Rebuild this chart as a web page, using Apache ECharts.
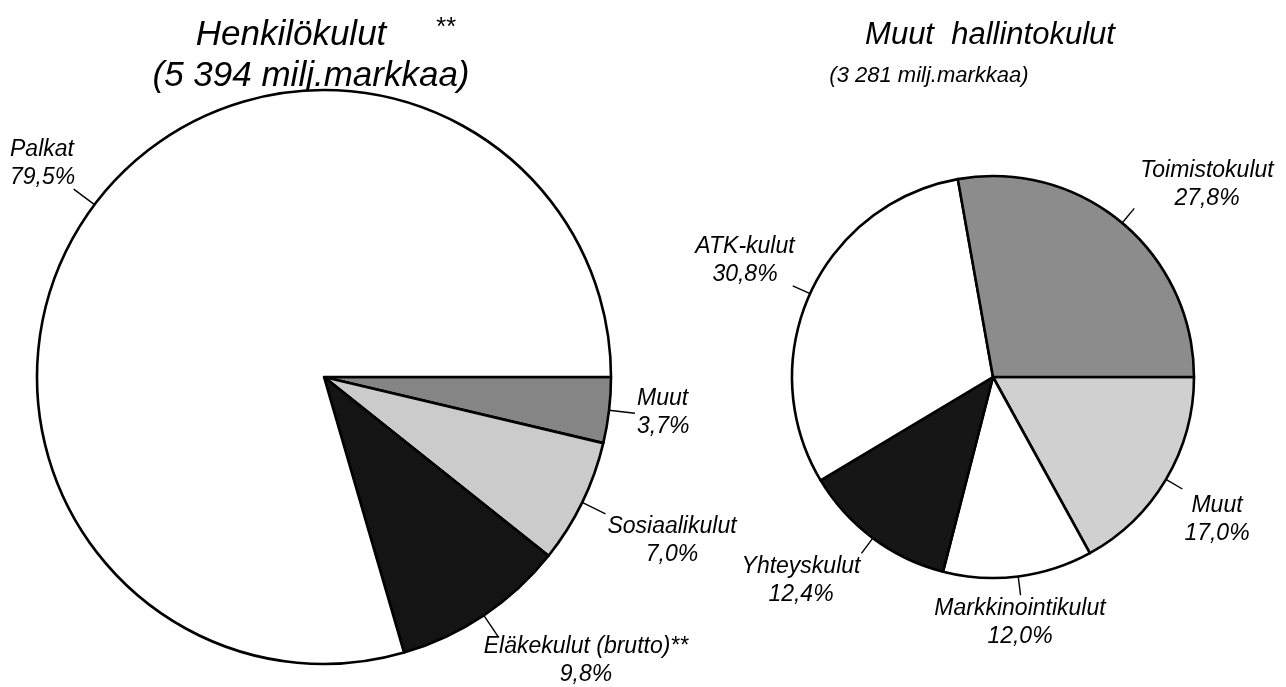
<!DOCTYPE html>
<html>
<head>
<meta charset="utf-8">
<title>Henkilökulut ja muut hallintokulut</title>
<script src="https://cdn.jsdelivr.net/npm/echarts@6/dist/echarts.min.js"></script>
<style>
  html, body { margin: 0; padding: 0; background: #fff; }
  #chart { width: 1286px; height: 687px; }
</style>
</head>
<body>
<div id="chart"></div>
<script>
// Henkilökulut (5 394 milj. mk), osuudet %
const henkiloNames = ['Muut', 'Sosiaalikulut', 'Eläkekulut (brutto)**', 'Palkat'];
const henkiloValues = [3.7, 7.0, 9.8, 79.5];
// Muut hallintokulut (3 281 milj. mk), osuudet %
const hallintoNames = ['Muut', 'Markkinointikulut', 'Yhteyskulut', 'ATK-kulut', 'Toimistokulut'];
const hallintoValues = [17.0, 12.0, 12.4, 30.8, 27.8];

const henkiloColors = ['#858585', '#cbcbcb', '#141414', '#ffffff'];
const hallintoColors = ['#d0d0d0', '#ffffff', '#161616', '#ffffff', '#8c8c8c'];

// label anchor: x, y, align
const henkiloLabelPos = [[637, 413, 'left'], [672, 541, 'center'], [586, 661, 'center'], [10, 164, 'left']];
const hallintoLabelPos = [[1217, 520, 'center'], [1020, 623, 'center'], [801, 581, 'center'], [745, 261, 'center'], [1207, 185, 'center']];

const FONT = '"Liberation Sans", Arial, sans-serif';

function pct(v) {
    return v.toFixed(1).replace('.', ',') + '%';
}

function makeData(names, values, colors) {
    return names.map((n, i) => ({
        name: n,
        value: values[i],
        itemStyle: {color: colors[i]}
    }));
}

function makePie(center, radius, data, labelPos, lineLen) {
    return {
        type: 'pie',
        center: center,
        radius: radius,
        startAngle: 0,
        clockwise: true,
        avoidLabelOverlap: false,
        silent: true,
        data: data,
        itemStyle: {
            borderColor: '#000',
            borderWidth: 2.6
        },
        label: {
            show: true,
            position: 'outside',
            formatter: p => p.name + '\n' + pct(p.value),
            fontFamily: FONT,
            fontStyle: 'italic',
            fontSize: 23,
            lineHeight: 28,
            color: '#000'
        },
        labelLine: {
            show: true,
            length: lineLen,
            length2: 0,
            smooth: false,
            lineStyle: {color: '#000', width: 1.4}
        },
        // keep the radial leader line from the pie layout, move only the text
        labelLayout: function (params) {
            const p = labelPos[params.dataIndex];
            const out = {x: p[0], y: p[1], align: p[2], verticalAlign: 'middle'};
            if (params.labelLinePoints) {
                out.labelLinePoints = params.labelLinePoints;
            }
            return out;
        }
    };
}

function titleText(x, y, text, size) {
    return {
        type: 'text',
        x: x,
        y: y,
        style: {
            text: text,
            fontFamily: FONT,
            fontStyle: 'italic',
            fontSize: size,
            fill: '#000',
            align: 'center',
            verticalAlign: 'middle',
            textAlign: 'center',
            textVerticalAlign: 'middle'
        }
    };
}

let myChart = echarts.init(document.getElementById('chart'));
myChart.setOption({
    backgroundColor: '#fff',
    animation: false,
    graphic: [
        titleText(291, 35, 'Henkilökulut', 35),
        titleText(445, 28, '**', 26),
        titleText(311, 76, '(5 394 milj.markkaa)', 35),
        titleText(990, 35, 'Muut  hallintokulut', 31),
        titleText(929, 76, '(3 281 milj.markkaa)', 22)
    ],
    series: [
        makePie([324, 377], 287, makeData(henkiloNames, henkiloValues, henkiloColors), henkiloLabelPos, 26),
        makePie([993, 377], 201, makeData(hallintoNames, hallintoValues, hallintoColors), hallintoLabelPos, 19)
    ]
});
</script>
</body>
</html>
